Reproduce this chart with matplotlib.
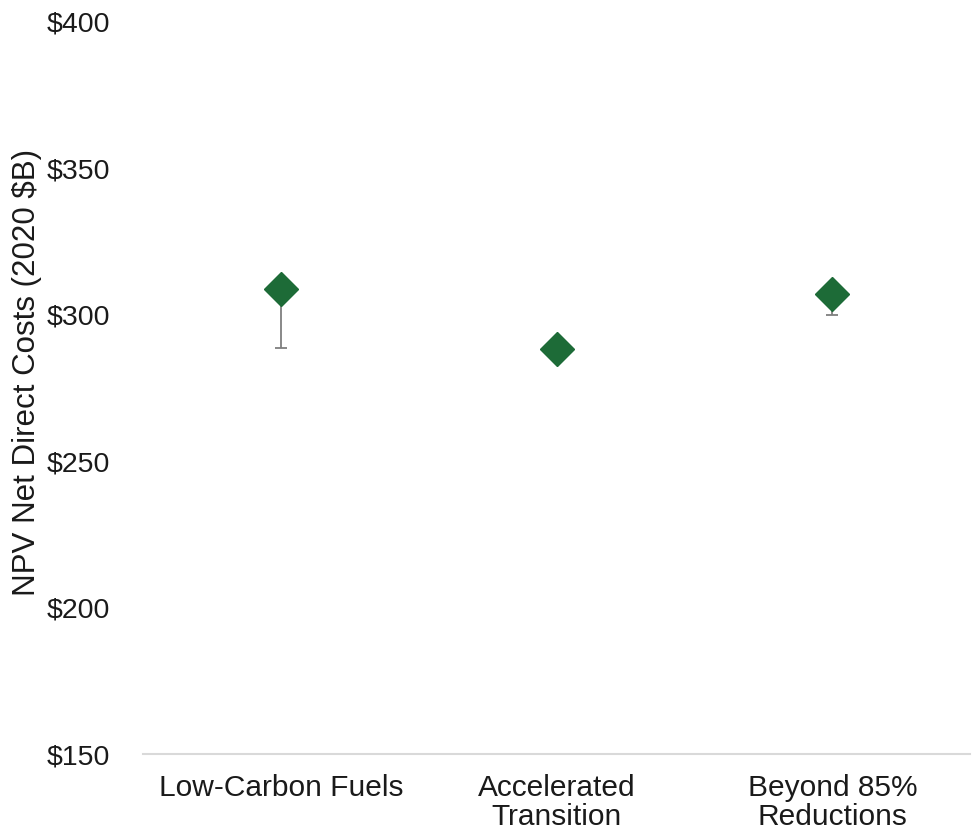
import matplotlib
matplotlib.use('Agg')
import matplotlib.pyplot as plt
import numpy as np

plt.rcParams['font.family'] = ['Liberation Sans', 'DejaVu Sans']

# scenario results, NPV net direct costs (2020 $B)
scenarios = ['Low-Carbon Fuels', 'Accelerated\nTransition', 'Beyond 85%\nReductions']
npv_cost = [308.8, 288.3, 307.1]
err_low = [20.1, 0.0, 7.1]
err_high = [0.0, 0.0, 0.0]
yticks = [150, 200, 250, 300, 350, 400]

fig = plt.figure(figsize=(9.75, 8.4), dpi=100)
ax = fig.add_axes([0.147, 0.102, 0.848, 0.872])

x = np.arange(len(scenarios))
ax.errorbar(x, npv_cost, yerr=[err_low, err_high], fmt='none',
            ecolor='#7f7f7f', elinewidth=1.3, capsize=4, capthick=1.3, zorder=1)
ax.plot(x, npv_cost, linestyle='none', marker='D', markersize=17.5,
        color='#1d6b37', zorder=2)

ax.set_xlim(-0.5, 2.5)
ax.set_ylim(150, 400)
ax.set_xticks(x)
ax.set_xticklabels(scenarios, fontsize=21.5, color='#1a1a1a', linespacing=1.05)
ax.set_yticks(yticks)
ax.set_yticklabels(['$' + str(v) for v in yticks], fontsize=20.5, color='#1a1a1a')
ax.tick_params(axis='x', length=0, pad=14)
ax.tick_params(axis='y', length=0, pad=24)
ax.set_ylabel('NPV Net Direct Costs (2020 $B)', fontsize=22.5, color='#1a1a1a')
ax.yaxis.set_label_coords(-0.122, 0.522)

for s in ['top', 'right', 'left']:
    ax.spines[s].set_visible(False)
ax.spines['bottom'].set_color('#d9d9d9')
ax.spines['bottom'].set_linewidth(1.5)

fig.savefig('out.png', dpi=100)
